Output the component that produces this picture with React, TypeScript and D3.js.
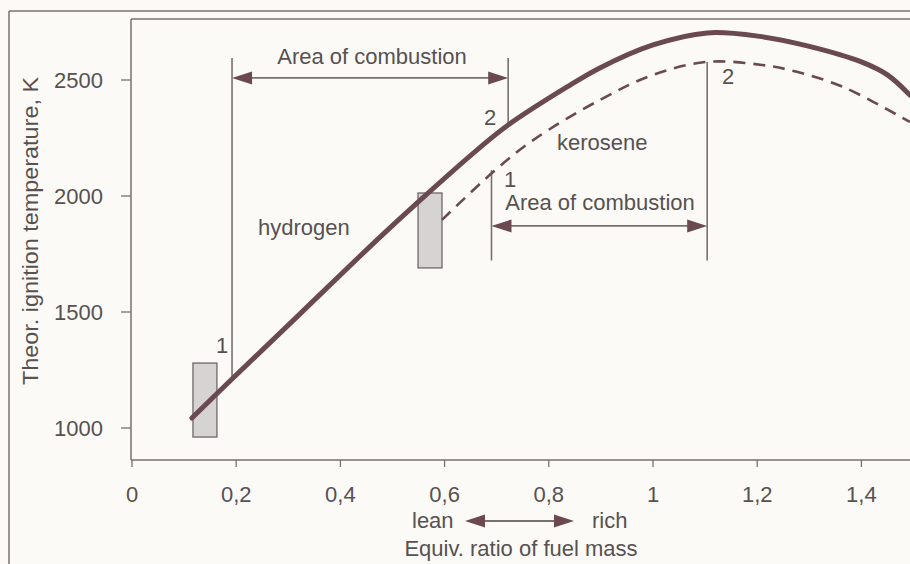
import React from "react";
import * as d3 from "d3";

// ---- data ----
const hydrogenX = [0.115, 0.192, 0.322, 0.476, 0.549, 0.662, 0.722, 0.835, 0.898, 1.0, 1.104, 1.205, 1.3, 1.4, 1.45, 1.493];
const hydrogenY = [1043, 1211, 1491, 1823, 1974, 2198, 2306, 2470, 2552, 2651, 2703, 2688, 2645, 2578, 2522, 2435];

const keroseneX = [0.595, 0.693, 0.77, 0.898, 1.0, 1.104, 1.209, 1.278, 1.365, 1.493];
const keroseneY = [1897, 2103, 2241, 2414, 2522, 2578, 2565, 2534, 2470, 2319];

const xTicks = [0, 0.2, 0.4, 0.6, 0.8, 1, 1.2, 1.4];
const xTickLabels = ["0", "0,2", "0,4", "0,6", "0,8", "1", "1,2", "1,4"];
const yTicks = [1000, 1500, 2000, 2500];

// limits boxes [x0, x1, y0, y1]
const hydrogenBox = [0.117, 0.163, 961, 1280];
const keroseneBox = [0.549, 0.595, 1690, 2013];

// combustion limits: [x, yTop, yBottom]
const hydrogenLimits = [
  [0.192, 2595, 1215],
  [0.722, 2595, 2306],
];
const keroseneLimits = [
  [0.69, 2112, 1722],
  [1.104, 2578, 1722],
];
const hydrogenArrowY = 2509;
const keroseneArrowY = 1871;

const W = 910;
const H = 564;
const FONT = "'Liberation Sans', Arial, Helvetica, sans-serif";
const TXT = "#575151";
const AX = "#787171";
const CURVE = "#6a4a50";
const FS = 22;

export default function App() {
  const x = d3.scaleLinear().domain([0, 1]).range([132, 653]);
  const y = d3.scaleLinear().domain([1000, 2500]).range([428, 80]);

  const line = d3
    .line<[number, number]>()
    .x((d) => x(d[0]))
    .y((d) => y(d[1]))
    .curve(d3.curveCatmullRom.alpha(0.5));

  const hPath = line(hydrogenX.map((v, i) => [v, hydrogenY[i]]) as [number, number][]) || "";
  const kPath = line(keroseneX.map((v, i) => [v, keroseneY[i]]) as [number, number][]) || "";

  const arrow = (x1: number, x2: number, yy: number, key: string) => {
    const L = 20;
    const h = 6.5;
    return (
      <g key={key}>
        <line x1={x1 + L - 2} x2={x2 - L + 2} y1={yy} y2={yy} stroke={AX} strokeWidth={1.8} />
        <path d={`M${x1},${yy} L${x1 + L},${yy - h} L${x1 + L},${yy + h} Z`} fill={CURVE} />
        <path d={`M${x2},${yy} L${x2 - L},${yy - h} L${x2 - L},${yy + h} Z`} fill={CURVE} />
      </g>
    );
  };

  const box = (b: number[], key: string) => (
    <rect
      key={key}
      x={x(b[0])}
      y={y(b[3])}
      width={x(b[1]) - x(b[0])}
      height={y(b[2]) - y(b[3])}
      fill="#d6d4d2"
      stroke="#6f6868"
      strokeWidth={1.3}
    />
  );

  const x0 = x(0);
  const yAxisY = 460;
  const topY = 19;

  return (
    <svg
      width={W}
      height={H}
      viewBox={`0 0 ${W} ${H}`}
      style={{ position: "absolute", left: 0, top: 0, background: "#fbfaf7" }}
      fontFamily={FONT}
    >
      <rect x={0} y={0} width={W} height={H} fill="#fbfaf7" />
      {/* outer frame */}
      <line x1={9} x2={W} y1={11} y2={11} stroke={AX} strokeWidth={1.5} />
      <line x1={9} x2={9} y1={11} y2={H} stroke={AX} strokeWidth={1.5} />
      {/* plot frame */}
      <line x1={x0 - 1} x2={W} y1={topY} y2={topY} stroke={AX} strokeWidth={1.5} />
      <line x1={x0 - 1} x2={x0 - 1} y1={topY} y2={yAxisY} stroke={AX} strokeWidth={1.5} />
      <line x1={x0 - 1} x2={W} y1={yAxisY} y2={yAxisY} stroke={AX} strokeWidth={1.5} />

      {/* y ticks */}
      {yTicks.map((t) => (
        <g key={"y" + t}>
          <line x1={121} x2={x0 - 1} y1={y(t)} y2={y(t)} stroke={AX} strokeWidth={1.3} />
          <text x={103} y={y(t) + 8} textAnchor="end" fontSize={FS} fill={TXT}>
            {t}
          </text>
        </g>
      ))}
      {/* x ticks */}
      {xTicks.map((t, i) => (
        <g key={"x" + t}>
          <line x1={x(t)} x2={x(t)} y1={yAxisY} y2={yAxisY + 7} stroke={AX} strokeWidth={1.3} />
          <text x={x(t)} y={502} textAnchor="middle" fontSize={FS} fill={TXT}>
            {xTickLabels[i]}
          </text>
        </g>
      ))}

      {/* axis titles */}
      <text
        transform={`translate(38,231) rotate(-90)`}
        textAnchor="middle"
        fontSize={FS}
        fill={TXT}
        textLength={308}
        lengthAdjust="spacingAndGlyphs"
      >
        Theor. ignition temperature, K
      </text>
      <text x={412} y={528} fontSize={FS} fill={TXT}>
        lean
      </text>
      <text x={592} y={528} fontSize={FS} fill={TXT}>
        rich
      </text>
      {arrow(465, 574, 521, "lr")}
      <text x={521} y={556} textAnchor="middle" fontSize={FS} fill={TXT}>
        Equiv. ratio of fuel mass
      </text>

      {/* boxes */}
      {box(hydrogenBox, "hb")}
      {box(keroseneBox, "kb")}

      {/* combustion limits */}
      {hydrogenLimits.map((l, i) => (
        <line key={"hl" + i} x1={x(l[0])} x2={x(l[0])} y1={y(l[1])} y2={y(l[2])} stroke={AX} strokeWidth={1.6} />
      ))}
      {keroseneLimits.map((l, i) => (
        <line key={"kl" + i} x1={x(l[0])} x2={x(l[0])} y1={y(l[1])} y2={y(l[2])} stroke={AX} strokeWidth={1.6} />
      ))}
      {arrow(x(hydrogenLimits[0][0]), x(hydrogenLimits[1][0]), y(hydrogenArrowY), "ha")}
      {arrow(x(keroseneLimits[0][0]), x(keroseneLimits[1][0]), y(keroseneArrowY), "ka")}

      {/* curves */}
      <path d={kPath} fill="none" stroke={CURVE} strokeWidth={2.6} strokeDasharray="12 8" />
      <path d={hPath} fill="none" stroke={CURVE} strokeWidth={5} strokeLinecap="round" />

      {/* labels */}
      <text x={372} y={64} textAnchor="middle" fontSize={FS} fill={TXT}>
        Area of combustion
      </text>
      <text x={600} y={210} textAnchor="middle" fontSize={FS} fill={TXT}>
        Area of combustion
      </text>
      <text x={216} y={353} fontSize={FS} fill={TXT}>
        1
      </text>
      <text x={484} y={125} fontSize={FS} fill={TXT}>
        2
      </text>
      <text x={504} y={187} fontSize={FS} fill={TXT}>
        1
      </text>
      <text x={722} y={84} fontSize={FS} fill={TXT}>
        2
      </text>
      <text x={557} y={150} fontSize={FS} fill={TXT}>
        kerosene
      </text>
      <text x={258} y={235} fontSize={FS} fill={TXT}>
        hydrogen
      </text>
    </svg>
  );
}
